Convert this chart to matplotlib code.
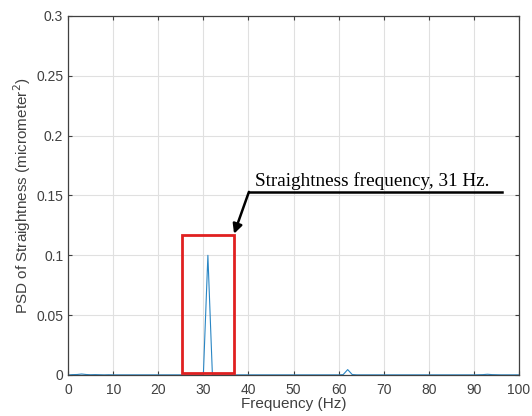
import numpy as np
import matplotlib
matplotlib.use('Agg')
from matplotlib import pyplot as plt
from matplotlib.patches import Rectangle

plt.rcParams['font.family'] = ['Liberation Sans', 'DejaVu Sans']

# PSD sampled every 1 Hz, 0..100 Hz
freq = list(range(0, 101))
psd = [0.0, 0.0003, 0.0004, 0.0008, 0.0004, 0.0002, 0.0003, 0.0002, 0.0001, 0.0002,
       0.0001, 0.0001, 0.0001, 0.0001, 0.0001, 0.0001, 0.0001, 0.0001, 0.0001, 0.0001,
       0.0001, 0.0001, 0.0001, 0.0001, 0.0001, 0.0001, 0.0001, 0.0001, 0.0001, 0.0001,
       0.0003, 0.1000, 0.0003, 0.0001, 0.0001, 0.0001, 0.0001, 0.0001, 0.0001, 0.0001,
       0.0001, 0.0001, 0.0001, 0.0001, 0.0001, 0.0001, 0.0001, 0.0001, 0.0001, 0.0001,
       0.0001, 0.0001, 0.0001, 0.0001, 0.0001, 0.0001, 0.0001, 0.0001, 0.0001, 0.0001,
       0.0001, 0.0003, 0.0045, 0.0004, 0.0001, 0.0001, 0.0001, 0.0001, 0.0001, 0.0001,
       0.0001, 0.0001, 0.0001, 0.0001, 0.0001, 0.0001, 0.0001, 0.0001, 0.0001, 0.0001,
       0.0001, 0.0001, 0.0001, 0.0001, 0.0001, 0.0001, 0.0001, 0.0001, 0.0001, 0.0001,
       0.0001, 0.0002, 0.0003, 0.0006, 0.0003, 0.0002, 0.0001, 0.0001, 0.0001, 0.0001,
       0.0001]

xticks = [0, 10, 20, 30, 40, 50, 60, 70, 80, 90, 100]
yticks = [0, 0.05, 0.1, 0.15, 0.2, 0.25, 0.3]
ytick_labels = ['0', '0.05', '0.1', '0.15', '0.2', '0.25', '0.3']

# highlight box and annotation (data units)
box_x = [25.3, 36.8]
box_y = [0.002, 0.117]
note = 'Straightness frequency, 31 Hz.'

fig = plt.figure(figsize=(5.32, 4.16), dpi=100)
ax = fig.add_axes([0.128, 0.0986, 0.8476, 0.863])

ax.plot(freq, psd, color='#2a86c4', linewidth=0.8)

ax.set_xlim(0, 100)
ax.set_ylim(0, 0.3)
ax.set_xticks(xticks)
ax.set_yticks(yticks)
ax.set_yticklabels(ytick_labels)
ax.grid(True, color='#e0e0e0', linewidth=0.8)
ax.set_axisbelow(True)
ax.tick_params(direction='in', top=True, right=True, length=3, width=0.8,
               colors='#404040', labelsize=10, labelcolor='#404040')
ax.tick_params(axis='x', pad=6)
for s in ax.spines.values():
    s.set_color('#404040')
    s.set_linewidth(0.9)

ax.set_xlabel('Frequency (Hz)', fontsize=11, color='#404040', labelpad=0)
ax.set_ylabel('PSD of Straightness (micrometer$^2$)', fontsize=11, color='#404040', labelpad=2)

ax.add_patch(Rectangle((box_x[0], box_y[0]), box_x[1] - box_x[0], box_y[1] - box_y[0],
                       fill=False, edgecolor='#e02020', linewidth=2, zorder=5))

# leader line and arrow
ax.plot([40.1, 96.2], [0.153, 0.153], color='black', linewidth=1.8, zorder=6)
ax.annotate('', xy=(36.8, 0.118), xytext=(40.1, 0.153),
            arrowprops=dict(arrowstyle='-|>', color='black', lw=1.8, mutation_scale=14,
                            shrinkA=0, shrinkB=0), zorder=6)
ax.text(41.5, 0.158, note, fontsize=13.8, family='Liberation Serif', color='black',
        ha='left', va='baseline', zorder=6)

fig.savefig('out.png', dpi=100)
